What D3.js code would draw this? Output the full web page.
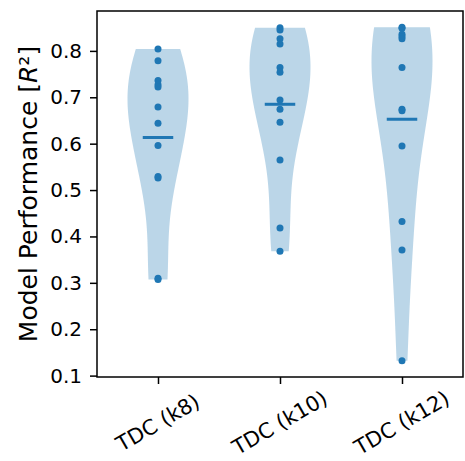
<!DOCTYPE html>
<html>
<head>
<meta charset="utf-8">
<script src="https://cdn.jsdelivr.net/npm/d3@7"></script>
<style>
  body { margin: 0; background: #fff; }
  text { font-family: "DejaVu Sans", sans-serif; }
</style>
</head>
<body>
<div id="chart"></div>
<script>
// values
const groups = ["TDC (k8)", "TDC (k10)", "TDC (k12)"];
const k8 = [0.804, 0.779, 0.736, 0.727, 0.722, 0.679, 0.644, 0.596, 0.529, 0.526, 0.310, 0.307];
const k10 = [0.850, 0.845, 0.826, 0.815, 0.764, 0.754, 0.694, 0.674, 0.646, 0.565, 0.418, 0.368];
const k12 = [0.851, 0.849, 0.836, 0.831, 0.826, 0.764, 0.674, 0.671, 0.595, 0.432, 0.371, 0.132];
const yTicks = [0.1, 0.2, 0.3, 0.4, 0.5, 0.6, 0.7, 0.8];
const series = [k8, k10, k12];

const W = 465, H = 461;
const blue = "#1f77b4";
const svg = d3.select("#chart").append("svg").attr("width", W).attr("height", H);

const mLeft = 97, mRight = 463, mTop = 11, mBottom = 377;
const x = d3.scaleLinear().domain([0.5, 3.5]).range([mLeft, mRight]);
const y = d3.scaleLinear().domain([0.097, 0.886]).range([mBottom, mTop]);

// gaussian kde like matplotlib (scott factor), cut at min/max
function kde(vals) {
    const n = vals.length;
    const bw = d3.deviation(vals) * Math.pow(n, -0.2);
    const lo = d3.min(vals), hi = d3.max(vals);
    const pts = d3.range(100).map(i => {
        const c = lo + i * (hi - lo) / 99;
        const d = d3.sum(vals, v => Math.exp(-0.5 * ((c - v) / bw) ** 2));
        return {c: c, d: d};
    });
    const m = d3.max(pts, p => p.d);
    pts.forEach(p => p.w = p.d / m * 0.25);
    return pts;
}

series.forEach((vals, i) => {
    const pos = i + 1;
    const area = d3.area()
        .y(d => y(d.c))
        .x0(d => x(pos - d.w))
        .x1(d => x(pos + d.w));
    svg.append("path")
        .datum(kde(vals))
        .attr("d", area)
        .attr("fill", blue)
        .attr("fill-opacity", 0.3);
    // mean line
    const mu = d3.mean(vals);
    svg.append("line")
        .attr("x1", x(pos - 0.125)).attr("x2", x(pos + 0.125))
        .attr("y1", y(mu)).attr("y2", y(mu))
        .attr("stroke", blue).attr("stroke-width", 3);
    svg.selectAll(null).data(vals).enter().append("circle")
        .attr("cx", x(pos))
        .attr("cy", d => y(d))
        .attr("r", 3.5)
        .attr("fill", blue);
});

// axes
const yAxis = svg.append("g")
    .attr("transform", `translate(${mLeft},0)`)
    .call(d3.axisLeft(y).tickValues(yTicks).tickFormat(d3.format(".1f")).tickSize(7).tickPadding(8));
yAxis.select(".domain").remove();
yAxis.selectAll("line").attr("stroke", "#000").attr("stroke-width", 1.5);
yAxis.selectAll("text").attr("font-size", 20).attr("fill", "#000")
    .style("font-family", "DejaVu Sans");

const xAxis = svg.append("g")
    .attr("transform", `translate(0,${mBottom})`)
    .call(d3.axisBottom(x).tickValues([1, 2, 3]).tickSize(7).tickFormat(""));
xAxis.select(".domain").remove();
xAxis.selectAll("line").attr("stroke", "#000").attr("stroke-width", 1.5);

groups.forEach((g, i) => {
    const cx = x(i + 1), cy = 423;
    svg.append("text")
        .attr("x", cx).attr("y", cy)
        .attr("text-anchor", "middle")
        .attr("dominant-baseline", "central")
        .attr("transform", `rotate(-30,${cx},${cy})`)
        .attr("font-size", 21)
        .text(g);
});

// frame
svg.append("rect")
    .attr("x", mLeft).attr("y", mTop)
    .attr("width", mRight - mLeft).attr("height", mBottom - mTop)
    .attr("fill", "none").attr("stroke", "#000").attr("stroke-width", 1.5);

// y label
const ly = (mTop + mBottom) / 2;
const label = svg.append("text")
    .attr("transform", `translate(28,${ly}) rotate(-90)`)
    .attr("text-anchor", "middle")
    .attr("dominant-baseline", "central")
    .attr("font-size", 25);
label.append("tspan").text("Model Performance [");
label.append("tspan").attr("font-style", "italic").text("R");
label.append("tspan").text("²]");
</script>
</body>
</html>
